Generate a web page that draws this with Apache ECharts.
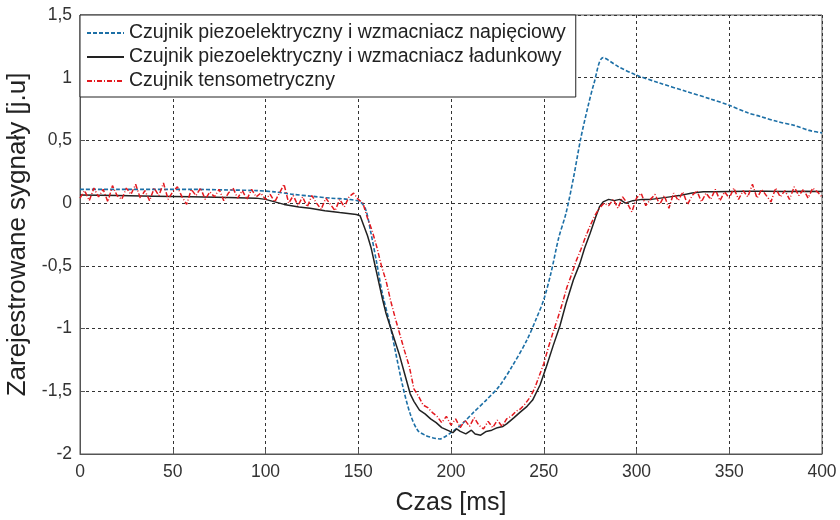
<!DOCTYPE html>
<html>
<head>
<meta charset="utf-8">
<script src="https://cdn.jsdelivr.net/npm/echarts@6/dist/echarts.min.js"></script>
<style>
  html, body { margin: 0; padding: 0; background: #fff; }
  #chart { width: 840px; height: 520px; }
</style>
</head>
<body>
<div id="chart"></div>
<script>
// serie 1: czujnik piezo + wzmacniacz napieciowy [t ms, wartosc]
var napieciowy = [
  [0, 0.11], [20, 0.11], [40, 0.11], [60, 0.11], [80, 0.105], [95, 0.10], [105, 0.09],
  [115, 0.07], [125, 0.055], [135, 0.04], [145, 0.03], [151, 0.01], [154, -0.05],
  [157, -0.25], [160, -0.48], [163, -0.72], [167, -0.96], [170, -1.18], [174, -1.46],
  [178, -1.68], [182, -1.81], [186, -1.85], [190, -1.87], [194, -1.88], [197, -1.86],
  [200, -1.83], [206, -1.76], [212, -1.67], [219, -1.57], [226, -1.46], [233, -1.30],
  [241, -1.09], [246, -0.92], [250, -0.77], [254, -0.55], [258, -0.28], [262, -0.08],
  [266, 0.20], [270, 0.52], [274, 0.78], [277, 0.95], [282, 1.16], [290, 1.09],
  [300, 1.02], [312, 0.96], [327, 0.89], [340, 0.83], [350, 0.78], [360, 0.72],
  [367, 0.69], [376, 0.65], [385, 0.62], [393, 0.58], [400, 0.56]
]

// serie 2: czujnik piezo + wzmacniacz ladunkowy
var ladunkowy = [
  [0, 0.065], [20, 0.06], [40, 0.055], [60, 0.05], [80, 0.045], [95, 0.04], [100, 0.03],
  [105, 0.01], [110, -0.01], [118, -0.03], [124, -0.04], [132, -0.06], [140, -0.075],
  [149, -0.09], [151, -0.10], [153, -0.18], [155, -0.26], [157, -0.36], [160, -0.56],
  [163, -0.76], [165, -0.88], [168, -1.02], [172, -1.20], [175, -1.36], [178, -1.52],
  [180, -1.58], [183, -1.65], [186, -1.68], [189, -1.72], [192, -1.75], [195, -1.79],
  [198, -1.81], [201, -1.83], [203, -1.80], [205, -1.82], [208, -1.84], [211, -1.81],
  [213, -1.84], [216, -1.85], [219, -1.82], [222, -1.81], [225, -1.79], [228, -1.78],
  [230, -1.76], [234, -1.71], [237, -1.67], [241, -1.62], [244, -1.57], [248, -1.45],
  [251.5, -1.30], [255, -1.14], [258.7, -0.98], [262, -0.80], [266, -0.61], [269.5, -0.48],
  [272, -0.36], [275, -0.24], [278, -0.11], [280, -0.03], [282, 0.01], [285, 0.03],
  [288, 0.02], [291, 0.03], [294, 0.0], [298, 0.02], [303, 0.03], [308, 0.03], [313, 0.04],
  [318, 0.05], [323, 0.06], [330, 0.08], [336, 0.09], [342, 0.09], [350, 0.093],
  [360, 0.095], [370, 0.095], [380, 0.093], [390, 0.095], [400, 0.093]
]

// serie 3: czujnik tensometryczny, probki co 2.5 ms od 0 do 400
var tensoKrok = 2.5
var tensometryczny = [
  0.04, 0.10, 0.02, 0.12, 0.05, 0.11, 0.01, 0.14, 0.06, 0.03,
  0.12, 0.07, 0.15, 0.04, 0.10, 0.02, 0.12, 0.06, 0.16, 0.03,
  0.09, 0.13, 0.05, -0.01, 0.11, 0.06, 0.12, 0.03, 0.09, 0.05,
  0.11, 0.02, 0.08, 0.12, 0.04, 0.10, 0.03, 0.11, 0.05, 0.08,
  0.03, 0.07, 0.01, 0.08, 0.15, 0.00, 0.06, -0.02, 0.05, -0.03,
  0.06, 0.00, -0.05, 0.04, -0.01, -0.06, 0.03, -0.03, 0.05, 0.08,
  0.03, 0.00, -0.12, -0.22, -0.35, -0.50, -0.62, -0.78, -0.92, -1.05,
  -1.18, -1.30, -1.48, -1.54, -1.61, -1.63, -1.67, -1.70, -1.75, -1.70,
  -1.77, -1.72, -1.79, -1.73, -1.78, -1.71, -1.77, -1.80, -1.74, -1.79,
  -1.73, -1.78, -1.72, -1.70, -1.66, -1.64, -1.60, -1.55, -1.48, -1.38,
  -1.28, -1.15, -1.03, -0.92, -0.80, -0.67, -0.57, -0.46, -0.37, -0.27,
  -0.18, -0.10, -0.04, 0.00, -0.02,
  0.03, -0.04, 0.05, 0.00, -0.07, 0.04, 0.08, -0.02, 0.03, 0.07,
  -0.01, 0.06, -0.04, 0.08, 0.02, 0.09, -0.01, 0.06, 0.10, 0.01,
  0.08, 0.03, 0.11, 0.02, 0.09, 0.04, 0.12, 0.03, 0.10, 0.05,
  0.15, 0.04, 0.11, 0.06, 0.01, 0.12, 0.05, 0.10, 0.03, 0.13,
  0.06, 0.11, 0.04, 0.12, 0.09, 0.05
]

var nazwy = [
  'Czujnik piezoelektryczny i wzmacniacz napięciowy',
  'Czujnik piezoelektryczny i wzmacniacz ładunkowy',
  'Czujnik tensometryczny'
]

var chart = echarts.init(document.getElementById('chart'))
var font = '"Liberation Sans", Arial, sans-serif'

chart.setOption({
  animation: false,
  backgroundColor: '#fff',
  textStyle: { fontFamily: font },
  grid: {
    left: 80, right: 18, top: 15, bottom: 66,
    outerBoundsMode: 'none',
    show: true, borderColor: '#555', borderWidth: 1
  },
  legend: {
    orient: 'vertical',
    left: 80, top: 15,
    padding: [8, 10, 6, 6],
    itemWidth: 37,
    itemHeight: 14,
    itemGap: 4,
    backgroundColor: '#fff',
    borderColor: '#222',
    borderWidth: 1,
    borderRadius: 0,
    itemStyle: { opacity: 0 },
    textStyle: { fontSize: 19.5, color: '#222', fontFamily: font },
    data: nazwy
  },
  xAxis: {
    type: 'value',
    min: 0, max: 400, interval: 50,
    name: 'Czas [ms]',
    nameLocation: 'middle',
    nameGap: 37,
    nameTextStyle: { fontSize: 25, color: '#222', fontFamily: font },
    axisLine: { onZero: false, lineStyle: { color: '#555' } },
    axisTick: { inside: true, length: 5, lineStyle: { color: '#555' } },
    axisLabel: { fontSize: 17.5, color: '#333', margin: 9 },
    splitLine: { show: true, lineStyle: { color: '#333', type: [3, 3], width: 1 } }
  },
  yAxis: {
    type: 'value',
    min: -2, max: 1.5, interval: 0.5,
    name: 'Zarejestrowane sygnały [j.u]',
    nameLocation: 'middle',
    nameGap: 43,
    nameTextStyle: { fontSize: 26, color: '#222', fontFamily: font },
    axisLine: { show: true, lineStyle: { color: '#555' } },
    axisTick: { show: true, inside: true, length: 5, lineStyle: { color: '#555' } },
    axisLabel: {
      fontSize: 17.5, color: '#333', margin: 8,
      formatter: function(v) { return String(v).replace('.', ',') }
    },
    splitLine: { show: true, lineStyle: { color: '#333', type: [3, 3], width: 1 } }
  },
  series: [
    {
      name: nazwy[0],
      type: 'line',
      symbol: 'none',
      smooth: 0.3,
      data: napieciowy,
      lineStyle: { color: '#1c6fa6', width: 1.6, type: [4, 2] },
      itemStyle: { color: '#1c6fa6' }
    },
    {
      name: nazwy[1],
      type: 'line',
      symbol: 'none',
      data: ladunkowy,
      lineStyle: { color: '#222', width: 1.5 },
      itemStyle: { color: '#222' }
    },
    {
      name: nazwy[2],
      type: 'line',
      symbol: 'none',
      data: tensometryczny.map(function(v, i) { return [i * tensoKrok, v] }),
      lineStyle: { color: '#e3191f', width: 1.5, type: [5, 2, 1, 2] },
      itemStyle: { color: '#e3191f' }
    }
  ]
})
</script>
</body>
</html>
